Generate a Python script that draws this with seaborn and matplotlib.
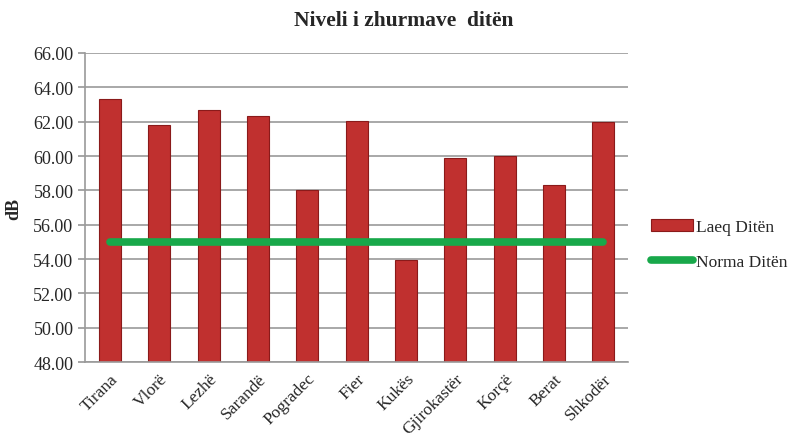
import numpy as np
import pandas as pd
import matplotlib
matplotlib.use("Agg")
import matplotlib.pyplot as plt
import seaborn as sns

# data
cities = ["Tirana", "Vlorë", "Lezhë", "Sarandë", "Pogradec", "Fier", "Kukës",
          "Gjirokastër", "Korçë", "Berat", "Shkodër"]
laeq = [63.32, 61.83, 62.66, 62.35, 58.04, 62.06, 53.94, 59.88, 60.02, 58.31, 61.96]
norma = [55.0] * len(cities)
yticks = [48, 50, 52, 54, 56, 58, 60, 62, 64, 66]

sns.set_theme(style="white")
plt.rcParams["font.family"] = ["Liberation Serif", "DejaVu Serif"]

df = pd.DataFrame({"city": cities, "laeq": laeq, "norma": norma, "pos": np.arange(len(cities))})

fig = plt.figure(figsize=(7.97, 4.39), dpi=100)
ax = fig.add_axes([0.107, 0.173, 0.681, 0.704])

ax.grid(axis="y", color="#9a9a9a", linewidth=1.2, zorder=0)
ax.set_axisbelow(True)

sns.barplot(data=df, x="city", y="laeq", color="#c0302f", width=0.45,
            edgecolor="#8a1a1a", linewidth=0.8, saturation=1, ax=ax,
            label="Laeq Ditën", zorder=2)
sns.lineplot(data=df, x="pos", y="norma", color="#18a84a", linewidth=5.5,
             solid_capstyle="round", ax=ax, label="Norma Ditën", zorder=3)

ax.set_ylim(48, 66)
ax.set_xlim(-0.5, len(cities) - 0.5)
ax.set_yticks(yticks)
ax.set_yticklabels([f"{v:.2f}" for v in yticks], fontsize=13)
ax.set_xticks(range(len(cities)))
ax.set_xticklabels(cities, rotation=45, ha="right", rotation_mode="anchor", fontsize=12.5)
ax.tick_params(axis="y", length=5, color="#9a9a9a", direction="out", left=True)
ax.tick_params(axis="x", length=0, pad=6)
ax.set_xlabel("")
ax.set_ylabel("dB", fontsize=13, fontweight="bold", labelpad=8)
fig.suptitle("Niveli i zhurmave  ditën", fontsize=15.5, fontweight="bold", x=0.507, y=0.975)

for s in ["top", "right"]:
    ax.spines[s].set_visible(False)
for s in ["left", "bottom"]:
    ax.spines[s].set_color("#9a9a9a")
    ax.spines[s].set_linewidth(1.2)

handles, labels = ax.get_legend_handles_labels()
order = [labels.index("Laeq Ditën"), labels.index("Norma Ditën")]
ax.legend([handles[i] for i in order], [labels[i] for i in order],
          loc="center left", bbox_to_anchor=(1.03, 0.38), frameon=False,
          fontsize=12.5, handlelength=2.4, labelspacing=1.1, handletextpad=0.2,
          borderaxespad=0)

fig.savefig("out.png", dpi=100)
